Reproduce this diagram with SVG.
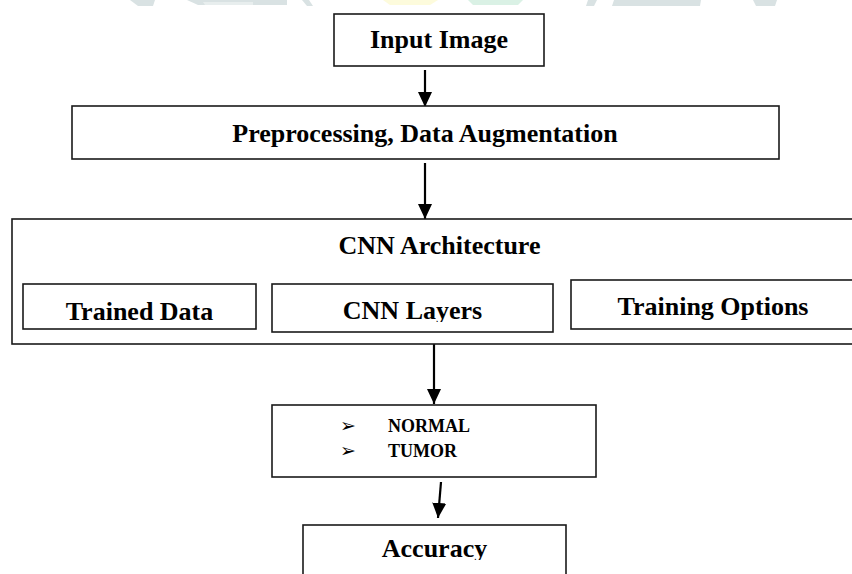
<svg xmlns="http://www.w3.org/2000/svg" width="852" height="574" viewBox="0 0 852 574">
  <style>
    .box { fill: #ffffff; stroke: #1a1a1a; stroke-width: 1.6; }
    .lbl { font-family: "Liberation Serif", "Times New Roman", serif; font-weight: bold; font-size: 26px; fill: #000; text-anchor: middle; }
    .item { font-family: "Liberation Serif", "Times New Roman", serif; font-weight: bold; font-size: 18px; fill: #000; }
    .bullet { font-family: "DejaVu Sans", sans-serif; font-size: 19px; fill: #000; }
    .wire { stroke: #000; stroke-width: 2.2; fill: none; marker-end: url(#head); }
    .wm-gray { fill: #d9e2e3; }
    .wm-light { fill: #e8eeee; }
    .wm-yellow { fill: #fdfbdc; }
    .wm-green { fill: #daf1e5; }
  </style>
  <defs>
    <!-- solid triangular arrowhead, drawn along +x so orient="auto" follows the line -->
    <marker id="head" viewBox="0 0 15 14" refX="15" refY="7" markerWidth="15" markerHeight="14" markerUnits="userSpaceOnUse" orient="auto">
      <path d="M0,0 L15,7 L0,14 Z" fill="#000"/>
    </marker>
    <clipPath id="clipOptions"><rect x="560" y="270" width="300" height="51"/></clipPath>
    <clipPath id="clipLayers"><rect x="260" y="270" width="300" height="52"/></clipPath>
    <clipPath id="clipAccuracy"><rect x="300" y="520" width="280" height="40"/></clipPath>
  </defs>

  <rect width="852" height="574" fill="#ffffff"/>

  <!-- faint logo band along the top edge -->
  <g id="logo-band">
    <polygon class="wm-gray" points="130,0 155,0 153,6 138,6"/>
    <polygon class="wm-gray" points="187,0 287,0 287,5 198,5"/>
    <polygon class="wm-light" points="203,2 253,2 253,5 205,5"/>
    <polygon class="wm-gray" points="302,0 309,0 313,6 307,6"/>
    <polygon class="wm-yellow" points="383,0 438,0 430,5 390,5"/>
    <polygon class="wm-green" points="468,0 523,0 518,5 473,5"/>
    <polygon class="wm-gray" points="588,0 597,0 594,6 586,6"/>
    <polygon class="wm-gray" points="614,0 701,0 700,6 612,6"/>
    <polygon class="wm-gray" points="753,0 777,0 775,6 756,6"/>
  </g>

  <!-- connectors -->
  <g id="connectors">
    <line class="wire" x1="425" y1="70" x2="425" y2="107"/>
    <line class="wire" x1="425" y1="163" x2="425" y2="219"/>
    <line class="wire" x1="434" y1="344" x2="434" y2="404"/>
    <line class="wire" x1="441" y1="482" x2="438" y2="518"/>
  </g>

  <g id="input-image">
    <rect class="box" x="334" y="14" width="210" height="52"/>
    <text class="lbl" x="439" y="48">Input Image</text>
  </g>

  <g id="preprocessing">
    <rect class="box" x="72" y="106" width="707" height="53"/>
    <text class="lbl" x="425" y="142">Preprocessing, Data Augmentation</text>
  </g>

  <g id="cnn-architecture">
    <rect class="box" x="12" y="219" width="860" height="125"/>
    <text class="lbl" x="439.5" y="254">CNN Architecture</text>
  </g>

  <g id="trained-data">
    <rect class="box" x="23" y="284" width="233" height="45"/>
    <text class="lbl" x="139.5" y="320">Trained Data</text>
  </g>

  <g id="cnn-layers">
    <rect class="box" x="272" y="284" width="281" height="48"/>
    <text class="lbl" x="412.5" y="319" clip-path="url(#clipLayers)">CNN Layers</text>
  </g>

  <g id="training-options">
    <rect class="box" x="571" y="280" width="290" height="49"/>
    <text class="lbl" x="713" y="315" clip-path="url(#clipOptions)">Training Options</text>
  </g>

  <g id="classes">
    <rect class="box" x="272" y="405" width="324" height="72"/>
    <text class="bullet" x="340" y="432">➢</text>
    <text class="item" x="388" y="432">NORMAL</text>
    <text class="bullet" x="340" y="457">➢</text>
    <text class="item" x="388" y="457">TUMOR</text>
  </g>

  <g id="accuracy">
    <rect class="box" x="303" y="525" width="263" height="60"/>
    <text class="lbl" x="434.5" y="557" clip-path="url(#clipAccuracy)">Accuracy</text>
  </g>
</svg>
